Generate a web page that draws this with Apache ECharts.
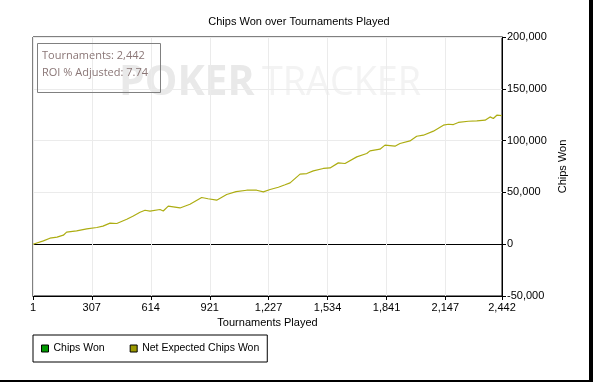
<!DOCTYPE html>
<html>
<head>
<meta charset="utf-8">
<script src="https://cdn.jsdelivr.net/npm/echarts@6/dist/echarts.min.js"></script>
<style>
html,body{margin:0;padding:0;background:#fff;}
#c{width:596px;height:382px;}
</style>
</head>
<body>
<div id="c"></div>
<script>
// Chart data
var titleText = 'Chips Won over Tournaments Played';
var xTickValues = [1, 307, 614, 921, 1227, 1534, 1841, 2147, 2442];
var xTickLabels = ['1', '307', '614', '921', '1,227', '1,534', '1,841', '2,147', '2,442'];
var yTickLabels = ['-50,000', '0', '50,000', '100,000', '150,000', '200,000'];
var tournaments = [1, 55, 89, 126, 159, 176, 228, 281, 333, 365, 402, 437, 489, 523, 558, 584, 610, 662, 679, 705, 766, 818, 879, 912, 957, 1009, 1058, 1113, 1165, 1200, 1235, 1278, 1313, 1339, 1391, 1426, 1460, 1512, 1547, 1590, 1625, 1686, 1738, 1755, 1807, 1833, 1885, 1911, 1963, 1998, 2033, 2085, 2137, 2163, 2189, 2215, 2267, 2311, 2354, 2380, 2397, 2415, 2441];
var netExpected = [0, 3200, 5800, 6800, 8700, 11600, 12800, 14800, 16100, 17400, 20300, 20000, 24100, 27300, 30900, 32800, 31900, 33500, 32100, 36700, 35000, 38600, 45100, 43900, 42500, 48000, 50700, 52100, 52100, 50500, 52800, 55000, 57400, 59200, 67600, 68200, 70800, 73100, 73600, 78500, 77900, 84300, 87500, 90100, 91700, 95600, 94600, 97200, 99700, 104200, 105200, 109100, 114900, 115800, 115500, 117500, 118700, 119000, 119700, 122900, 121300, 124500, 124200];
var chipsWon = [];
var infoLines = ['Tournaments: 2,442', 'ROI % Adjusted: 7.74'];
var seriesNames = ['Chips Won', 'Net Expected Chips Won'];

var netData = tournaments.map(function (t, i) { return [t, netExpected[i]]; });
var yLabelMap = {};
[-50000, 0, 50000, 100000, 150000, 200000].forEach(function (v, i) { yLabelMap[v] = yTickLabels[i]; });

var chart = echarts.init(document.getElementById('c'), null, {renderer: 'canvas'});
var FONT = 'Liberation Sans';
chart.setOption({
  animation: false,
  backgroundColor: '#ffffff',
  title: {
    text: titleText,
    left: 294, top: 11, textAlign: 'center',
    textStyle: {fontFamily: FONT, fontSize: 11, fontWeight: 'normal', color: '#000'}
  },
  grid: {
    left: 33, right: 94, top: 37, bottom: 86,
    show: true, borderColor: '#000', borderWidth: 1, backgroundColor: 'transparent'
  },
  legend: {
    left: 33, top: 335,
    padding: [8, 8, 8, 8],
    itemGap: 25,
    itemWidth: 7, itemHeight: 7,
    icon: 'rect',
    borderColor: '#000', borderWidth: 1,
    itemStyle: {borderColor: '#000', borderWidth: 1},
    textStyle: {fontFamily: FONT, fontSize: 10.5, color: '#000'},
    data: seriesNames
  },
  xAxis: {
    type: 'value', min: 1, max: 2442,
    name: 'Tournaments Played', nameLocation: 'middle', nameGap: 20,
    nameTextStyle: {fontFamily: FONT, fontSize: 11, color: '#000'},
    axisLine: {show: true, onZero: false, lineStyle: {color: '#000', width: 1}},
    axisTick: {show: true, length: 4, lineStyle: {color: '#000'}, customValues: xTickValues},
    axisLabel: {
      customValues: xTickValues, margin: 6,
      fontFamily: FONT, fontSize: 11, color: '#000',
      formatter: function (v) { var i = xTickValues.indexOf(v); return i >= 0 ? xTickLabels[i] : ''; }
    },
    splitLine: {show: true, lineStyle: {color: '#ebebeb', width: 1}}
  },
  yAxis: {
    type: 'value', position: 'right', min: -50000, max: 200000, interval: 50000,
    name: 'Chips Won', nameLocation: 'middle', nameGap: 54, nameRotate: 90,
    nameTextStyle: {fontFamily: FONT, fontSize: 11, color: '#000'},
    axisLine: {show: true, lineStyle: {color: '#000', width: 1}},
    axisTick: {show: true, length: 4, lineStyle: {color: '#000'}},
    axisLabel: {
      margin: 5, fontFamily: FONT, fontSize: 11, color: '#000',
      formatter: function (v) { return yLabelMap[v] !== undefined ? yLabelMap[v] : ''; }
    },
    splitLine: {show: true, lineStyle: {color: ['#ebebeb', '#000', '#ebebeb', '#ebebeb', '#ebebeb', '#ebebeb'], width: 1}}
  },
  graphic: [
    {type: 'text', z: 0, x: 119, y: 63, style: {text: 'POKER', fontFamily: 'Open Sans', fontWeight: 'bold', fontSize: 41, fill: '#e9e9e9'}},
    {type: 'text', z: 0, x: 262, y: 63, scaleX: 0.92, style: {text: 'TRACKER', fontFamily: 'Open Sans', fontWeight: 'normal', fontSize: 41, fill: '#f3f3f3'}},
    {type: 'rect', z: 10, shape: {x: 37.5, y: 43.5, width: 123, height: 49}, style: {fill: 'none', stroke: '#808080', lineWidth: 1}},
    {type: 'text', z: 10, x: 42, y: 50, style: {text: infoLines[0], fontFamily: 'Open Sans', fontSize: 11, fill: '#8a7676'}},
    {type: 'text', z: 10, x: 42, y: 67, style: {text: infoLines[1], fontFamily: 'Open Sans', fontSize: 11, fill: '#8a7676'}},
    {type: 'rect', z: 10, shape: {x: 589, y: 0, width: 4, height: 382}, style: {fill: '#000'}},
    {type: 'rect', z: 10, shape: {x: 0, y: 380, width: 593, height: 2}, style: {fill: '#000'}}
  ],
  series: [
    {name: seriesNames[0], type: 'line', data: chipsWon, color: '#009900', showSymbol: false},
    {name: seriesNames[1], type: 'line', data: netData, color: '#a0a000', showSymbol: false,
     lineStyle: {color: '#adad12', width: 1.2}, itemStyle: {color: '#9c9a00'}}
  ]
});
</script>
</body>
</html>
